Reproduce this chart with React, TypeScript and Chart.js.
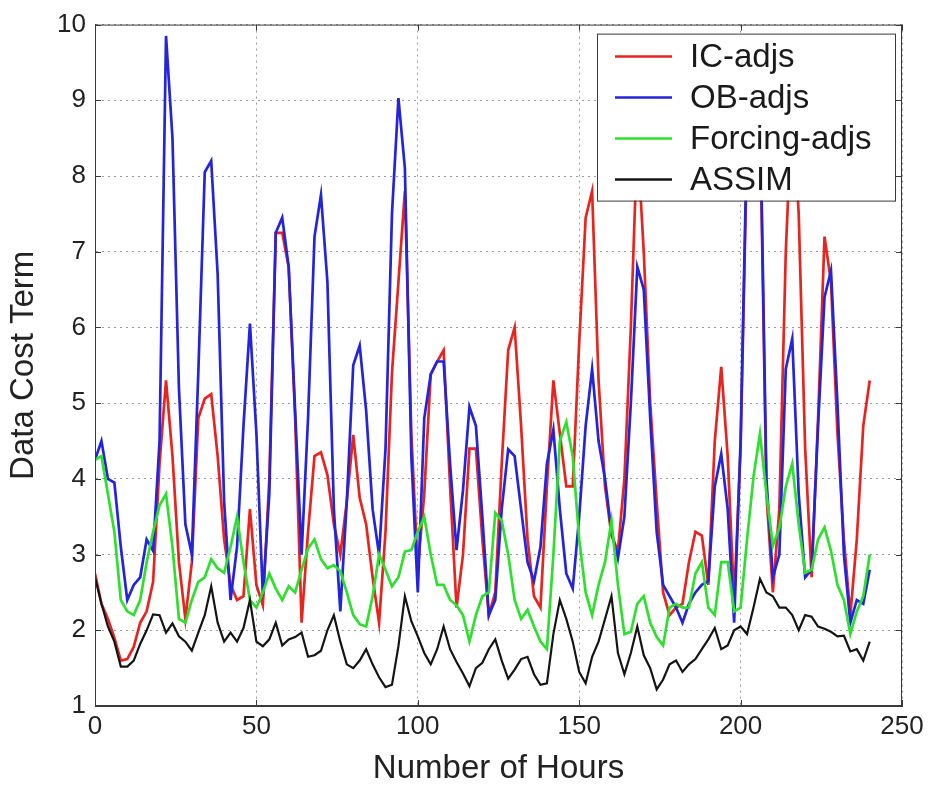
import React, { useEffect, useRef } from "react";
import { Chart, registerables } from "chart.js";

Chart.register(...registerables);

// Hour of each sample (every 2 hours)
const hours = [
  0, 2, 4, 6, 8, 10, 12, 14, 16, 18,
  20, 22, 24, 26, 28, 30, 32, 34, 36, 38,
  40, 42, 44, 46, 48, 50, 52, 54, 56, 58,
  60, 62, 64, 66, 68, 70, 72, 74, 76, 78,
  80, 82, 84, 86, 88, 90, 92, 94, 96, 98,
  100, 102, 104, 106, 108, 110, 112, 114, 116, 118,
  120, 122, 124, 126, 128, 130, 132, 134, 136, 138,
  140, 142, 144, 146, 148, 150, 152, 154, 156, 158,
  160, 162, 164, 166, 168, 170, 172, 174, 176, 178,
  180, 182, 184, 186, 188, 190, 192, 194, 196, 198,
  200, 202, 204, 206, 208, 210, 212, 214, 216, 218,
  220, 222, 224, 226, 228, 230, 232, 234, 236, 238,
  240,
];

const icAdjs = [
  2.75, 2.35, 2.15, 1.9, 1.6, 1.62, 1.78, 2.1, 2.25, 2.64,
  4.2, 5.3, 4.3, 2.9, 2.15, 2.9, 4.8, 5.06, 5.12, 4.3,
  3.2, 2.6, 2.4, 2.45, 3.6, 2.6, 2.33, 4.0, 7.25, 7.25,
  6.8, 4.8, 2.1, 3.3, 4.3, 4.35, 4.05, 3.4, 3.0, 3.7,
  4.58, 3.75, 3.4, 2.7, 2.1, 3.3, 5.4, 6.6, 7.8, 4.6,
  2.8, 3.8, 5.38, 5.55, 5.7, 3.9, 2.3, 3.0, 4.4, 4.4,
  3.2, 2.2, 2.5, 4.2, 5.7, 6.0, 4.7, 3.2, 2.45, 2.3,
  3.9, 5.3, 4.6, 3.9, 3.9, 5.8, 7.45, 7.8, 5.3, 3.9,
  3.25, 3.05, 4.0, 6.0, 8.5, 7.0, 5.0, 3.7, 2.5, 2.2,
  2.3, 2.35, 2.9, 3.3, 3.25, 2.6, 4.5, 5.48, 4.3, 2.4,
  4.4, 8.4, 9.0, 8.8, 3.8, 2.5, 3.6, 7.0, 9.0, 7.5,
  4.4, 2.7, 4.8, 7.2, 6.6, 4.6, 3.2, 2.2, 3.2, 4.7,
  5.3,
];

const obAdjs = [
  4.25, 4.5, 4.0, 3.95, 3.1, 2.4, 2.6, 2.7, 3.2, 3.05,
  4.5, 9.85, 8.5, 5.2, 3.4, 3.0, 5.4, 8.05, 8.2, 6.7,
  3.7, 2.4, 3.1, 4.7, 6.05, 4.6, 2.45, 3.8, 7.25, 7.45,
  6.8, 4.9, 3.0, 4.8, 7.2, 7.75, 6.6, 3.6, 2.25, 3.7,
  5.5, 5.76, 4.9, 3.6, 3.0, 4.4, 7.5, 9.03, 8.1, 4.3,
  2.5, 4.8, 5.38, 5.55, 5.55, 4.2, 3.06, 3.85, 4.95, 4.7,
  3.5, 2.2, 2.4, 3.6, 4.39, 4.3, 3.6, 2.9, 2.65, 3.1,
  4.2, 4.65, 3.6, 2.75, 2.55, 3.5, 4.7, 5.45, 4.5, 4.0,
  3.3, 2.95, 3.5, 5.0, 6.8, 6.5, 4.8, 3.3, 2.6, 2.45,
  2.3, 2.1, 2.35, 2.5, 2.6, 2.65, 3.9, 4.33, 3.6, 2.1,
  4.5, 8.6, 9.2, 9.0, 4.0, 2.7, 3.0, 5.45, 5.85, 3.8,
  2.7, 2.8, 4.7, 6.4, 6.75, 5.0, 3.0, 2.1, 2.4, 2.35,
  2.8,
];

const forcingAdjs = [
  4.25, 4.3, 3.8, 3.3, 2.4, 2.25, 2.2, 2.4, 2.9, 3.3,
  3.65, 3.8, 3.1, 2.15, 2.1, 2.4, 2.64, 2.7, 2.94, 2.82,
  2.76, 3.1, 3.5, 2.9, 2.4, 2.3, 2.5, 2.75, 2.55, 2.4,
  2.58, 2.5, 2.8, 3.08, 3.2, 2.94, 2.82, 2.86, 2.78, 2.5,
  2.2, 2.08, 2.05, 2.45, 3.0, 2.8, 2.58, 2.7, 3.04, 3.06,
  3.3, 3.5, 3.0, 2.6, 2.6, 2.4, 2.33, 2.2, 1.85, 2.2,
  2.45, 2.5, 3.55, 3.45, 3.0, 2.4, 2.15, 2.27, 2.05, 1.85,
  1.75, 3.0, 4.5, 4.75, 4.3, 3.2, 2.5, 2.2, 2.6, 2.9,
  3.45, 2.6, 1.95, 1.98, 2.35, 2.45, 2.1, 1.91, 1.8, 2.3,
  2.35, 2.3, 2.3, 2.75, 2.9, 2.3, 2.2, 2.9, 2.9, 2.25,
  2.3, 3.2, 4.03, 4.6, 3.8, 3.12, 3.35, 3.9, 4.2, 3.4,
  2.76, 2.8, 3.2, 3.36, 3.05, 2.6, 2.4, 1.95, 2.25, 2.45,
  3.0,
];

const assim = [
  2.7, 2.35, 2.05, 1.85, 1.52, 1.52, 1.6, 1.82, 2.0, 2.21,
  2.2, 1.97, 2.09, 1.92, 1.85, 1.73, 1.97, 2.2, 2.58, 2.1,
  1.85, 1.97, 1.85, 2.03, 2.4, 1.85, 1.79, 1.88, 2.1, 1.8,
  1.88, 1.91, 1.97, 1.65, 1.67, 1.73, 2.0, 2.2, 1.85, 1.55,
  1.5, 1.6, 1.75, 1.55, 1.38, 1.25, 1.28, 1.79, 2.45, 2.12,
  1.92, 1.7, 1.55, 1.75, 2.05, 1.75, 1.58, 1.43, 1.26, 1.5,
  1.57, 1.75, 1.88, 1.6, 1.36, 1.48, 1.62, 1.65, 1.42, 1.28,
  1.3, 1.95, 2.4, 2.15, 1.85, 1.45, 1.3, 1.65, 1.85, 2.15,
  2.45, 1.7, 1.42, 1.7, 2.05, 1.67, 1.5, 1.22, 1.35, 1.55,
  1.6, 1.45, 1.55, 1.62, 1.75, 1.88, 2.03, 1.75, 1.8, 2.0,
  2.05, 1.95, 2.3, 2.68, 2.5, 2.45, 2.3, 2.3, 2.2, 2.0,
  2.2, 2.18, 2.05, 2.02, 1.98, 1.92, 1.93, 1.72, 1.75, 1.6,
  1.85,
];

const seriesLabels = ["IC-adjs", "OB-adjs", "Forcing-adjs", "ASSIM"];
const seriesColors = ["#e8241f", "#2424dc", "#2ee02e", "#141414"];
const seriesValues = [icAdjs, obAdjs, forcingAdjs, assim];

const xTicks = [0, 50, 100, 150, 200, 250];
const yTicks = [1, 2, 3, 4, 5, 6, 7, 8, 9, 10];

const xTitle = "Number of Hours";
const yTitle = "Data Cost Term";

const FONT = '"Liberation Sans", Arial, Helvetica, sans-serif';

// Axes box with inward tick marks on all four sides
const framePlugin = {
  id: "frame",
  afterDatasetsDraw(chart: any) {
    const { ctx, chartArea: a, scales } = chart;
    ctx.save();
    ctx.strokeStyle = "#3a3a3a";
    ctx.lineWidth = 1;
    ctx.strokeRect(a.left + 0.5, a.top + 0.5, a.right - a.left - 1, a.bottom - a.top - 1);
    const t = 6;
    ctx.beginPath();
    xTicks.forEach((v) => {
      const x = Math.round(scales.x.getPixelForValue(v)) + 0.5;
      ctx.moveTo(x, a.bottom);
      ctx.lineTo(x, a.bottom - t);
      ctx.moveTo(x, a.top);
      ctx.lineTo(x, a.top + t);
    });
    yTicks.forEach((v) => {
      const y = Math.round(scales.y.getPixelForValue(v)) + 0.5;
      ctx.moveTo(a.left, y);
      ctx.lineTo(a.left + t, y);
      ctx.moveTo(a.right, y);
      ctx.lineTo(a.right - t, y);
    });
    ctx.stroke();
    ctx.restore();
  },
};

// Boxed legend drawn over the plot, top-right corner
const boxLegendPlugin = {
  id: "boxLegend",
  afterDraw(chart: any) {
    const { ctx, chartArea: a } = chart;
    const w = 298;
    const h = 167;
    const left = a.right - 7 - w;
    const top = a.top + 9;
    ctx.save();
    ctx.fillStyle = "#ffffff";
    ctx.fillRect(left, top, w, h);
    ctx.strokeStyle = "#3a3a3a";
    ctx.lineWidth = 1;
    ctx.strokeRect(left + 0.5, top + 0.5, w, h);
    ctx.font = `33px ${FONT}`;
    ctx.textBaseline = "middle";
    ctx.textAlign = "left";
    seriesLabels.forEach((label, i) => {
      const y = top + 23 + i * 41;
      ctx.strokeStyle = seriesColors[i];
      ctx.lineWidth = 2.5;
      ctx.beginPath();
      ctx.moveTo(left + 18, y);
      ctx.lineTo(left + 75, y);
      ctx.stroke();
      ctx.fillStyle = "#1a1a1a";
      ctx.fillText(label, left + 93, y + 1);
    });
    ctx.restore();
  },
};

export default function App() {
  const canvasRef = useRef<HTMLCanvasElement | null>(null);

  useEffect(() => {
    document.body.style.margin = "0";
    document.body.style.background = "#ffffff";
    const canvas = canvasRef.current;
    if (!canvas) return;

    const drawOrder = [3, 2, 1, 0];
    const datasets = seriesLabels.map((label, i) => ({
      label,
      data: hours.map((h, k) => ({ x: h, y: seriesValues[i][k] })),
      borderColor: seriesColors[i],
      backgroundColor: seriesColors[i],
      borderWidth: i === 3 ? 2.2 : 2.7,
      pointRadius: 0,
      tension: 0,
      fill: false,
      order: drawOrder[i],
    }));

    const chart = new Chart(canvas, {
      type: "line",
      data: { datasets },
      options: {
        responsive: false,
        animation: false,
        devicePixelRatio: 1,
        layout: { padding: { left: 0, top: 18, right: 40, bottom: 0 } },
        plugins: {
          legend: { display: false },
          tooltip: { enabled: false },
        },
        scales: {
          x: {
            type: "linear",
            min: 0,
            max: 250,
            afterFit: (scale: any) => {
              scale.height = 79;
            },
            afterBuildTicks: (scale: any) => {
              scale.ticks = xTicks.map((v) => ({ value: v }));
            },
            ticks: {
              padding: 5,
              maxRotation: 0,
              autoSkip: false,
              color: "#222",
              font: { family: FONT, size: 26 },
            },
            grid: { color: "#9a9a9a", lineWidth: 1, drawTicks: false },
            border: { display: true, color: "#3a3a3a", dash: [2, 4] },
            title: {
              display: true,
              text: xTitle,
              color: "#222",
              font: { family: FONT, size: 33, lineHeight: 1 },
              padding: { top: -4, bottom: 0 },
            },
          },
          y: {
            type: "linear",
            min: 1,
            max: 10,
            afterFit: (scale: any) => {
              scale.width = 95;
            },
            afterBuildTicks: (scale: any) => {
              scale.ticks = yTicks.map((v) => ({ value: v }));
            },
            ticks: {
              padding: 9,
              autoSkip: false,
              color: "#222",
              font: { family: FONT, size: 26 },
            },
            grid: { color: "#9a9a9a", lineWidth: 1, drawTicks: false },
            border: { display: true, color: "#3a3a3a", dash: [2, 4] },
            title: {
              display: true,
              text: yTitle,
              color: "#222",
              font: { family: FONT, size: 33, lineHeight: 1 },
              padding: { top: 7, bottom: 0 },
            },
          },
        },
      },
      plugins: [framePlugin, boxLegendPlugin],
    });

    return () => chart.destroy();
  }, []);

  return (
    <div style={{ width: 942, height: 785, background: "#ffffff" }}>
      <canvas ref={canvasRef} width={942} height={785} style={{ display: "block" }} />
    </div>
  );
}
